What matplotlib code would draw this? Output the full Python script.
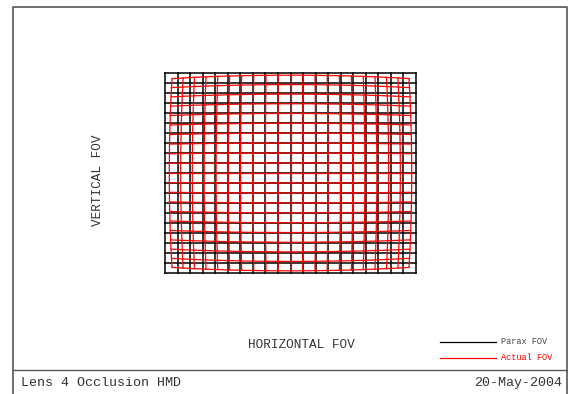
import numpy as np
import matplotlib
matplotlib.use('Agg')
import matplotlib.pyplot as plt
from matplotlib.lines import Line2D

# grid distortion plot data
n_lines = 21                 # grid lines in each direction
half_x = 1.0                 # normalized half field, x
half_y = 1.0                 # normalized half field, y
aspect_xy = [125.5, 100.0]   # relative extent of the x and y fields
distortion_k = 0.056         # barrel distortion at the field corner (fraction)

title_left = 'Lens 4 Occlusion HMD'
title_right = '20-May-2004'
xlabel = 'HORIZONTAL FOV'
ylabel = 'VERTICAL FOV'
legend_labels = ['Parax FOV', 'Actual FOV']

W, H = 568, 394
MONO = ['Liberation Mono', 'DejaVu Sans Mono']

fig = plt.figure(figsize=(W / 100, H / 100), dpi=100)

# page frame
bg = fig.add_axes([0, 0, 1, 1])
bg.set_xlim(0, W)
bg.set_ylim(H, 0)
bg.axis('off')
bg.add_line(Line2D([12.5, 12.5, 566.5, 566.5], [H, 6.5, 6.5, H], color='#555555', lw=1.2))
bg.add_line(Line2D([12.5, 566.5], [370, 370], color='#555555', lw=1.0))
bg.text(21, 383, title_left, family=MONO, fontsize=9.6, color='#333333', va='center', ha='left')
bg.text(562, 383, title_right, family=MONO, fontsize=9.6, color='#333333', va='center', ha='right')
bg.text(301, 345, xlabel, family=MONO, fontsize=9.2, color='#333333', va='center', ha='center')
bg.text(98, 180, ylabel, family=MONO, fontsize=9.2, color='#333333', va='center', ha='center', rotation=90)

# legend
bg.add_line(Line2D([440, 496], [342, 342], color='black', lw=0.9))
bg.add_line(Line2D([440, 496], [358, 358], color='red', lw=0.9))
bg.text(501, 342, legend_labels[0], family=MONO, fontsize=6.2, color='#444444', va='center', ha='left')
bg.text(501, 358, legend_labels[1], family=MONO, fontsize=6.2, color='red', va='center', ha='left')

# grid axes
gx0, gx1, gy0, gy1 = 165, 416, 73, 273
ax = fig.add_axes([gx0 / W, (H - gy1) / H, (gx1 - gx0) / W, (gy1 - gy0) / H])
ax.set_xlim(-half_x, half_x)
ax.set_ylim(-half_y, half_y)
ax.axis('off')

xs = np.linspace(-half_x, half_x, n_lines)
ys = np.linspace(-half_y, half_y, n_lines)
diag2 = aspect_xy[0] ** 2 + aspect_xy[1] ** 2

def actual(x, y):
    r2 = ((aspect_xy[0] * x) ** 2 + (aspect_xy[1] * y) ** 2) / diag2
    f = 1 - distortion_k * r2
    return x * f, y * f

t = np.linspace(-1, 1, 81)
for x in xs:
    ax.plot([x, x], [-half_y, half_y], color='black', lw=1.1, clip_on=False)
for y in ys:
    ax.plot([-half_x, half_x], [y, y], color='black', lw=1.1, clip_on=False)

for x in xs:
    px, py = actual(np.full_like(t, x), t * half_y)
    ax.plot(px, py, color='red', lw=0.9, clip_on=False)
for y in ys:
    px, py = actual(t * half_x, np.full_like(t, y))
    ax.plot(px, py, color='red', lw=0.9, clip_on=False)

fig.savefig('out.png', dpi=100)
